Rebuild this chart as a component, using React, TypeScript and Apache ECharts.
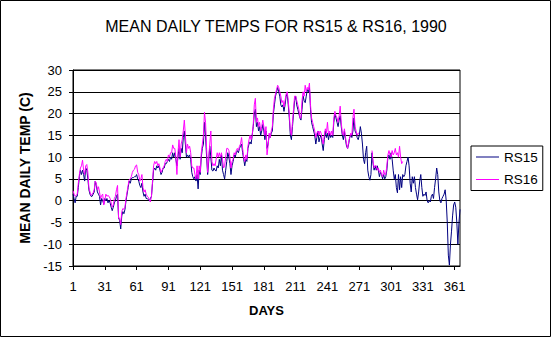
import React, { useEffect, useRef } from "react";
import * as echarts from "echarts";

const days: string[] = Array.from({ length: 366 }, (_, i) => String(i + 1));
const xTickLabels = ["1", "31", "61", "91", "121", "151", "181", "211", "241", "271", "301", "331", "361"];

const rs15: (number | null)[] = [
  // 1-30
  1.5, 0.5, -0.5, 1, 1, 3, 5.5, 7, 6, 7,
  6, 4.5, 7.5, 7, 5, 2.5, 1.5, 1, 1, 1.5,
  2, 4.5, 3.5, 2, 1.5, 1, -1, 0.5, 0, -0.8,
  // 31-60
  0.5, 0, 0.5, -0.5, 0, -0.5, -1.5, -2.3, -1.5, -0.5,
  0, 1, 1.5, -4, -4.5, -6.5, -3.5, -2.5, -3, -2,
  0, 1.5, 3, 4.5, 4, 5, 5.3, 5.3, 5.5, 5.5,
  // 61-90
  6, 5, 4.5, 3.5, 3, 4, 2, 1, 1.5, 0.5,
  0.5, 0.2, 0, 0.5, 1, 4, 7, 7.5, 7, 8,
  7.5, 8, 7, 6, 6.5, 7.5, 7.5, 8.5, 8.5, 9,
  // 91-120
  9.5, 9, 10, 9.5, 11, 10, 11, 9.5, 8, 10,
  12, 9.5, 12, 11, 14.5, 16, 13, 10, 10.5, 10,
  10.5, 9.5, 6.5, 5.5, 5, 5.5, 4.5, 6, 2.7, 7,
  // 121-150
  6, 10, 12, 13, 18, 15, 10, 6, 9, 12.5,
  10, 7, 6.8, 7.5, 7, 6.8, 8, 7.5, 9.5, 8,
  10.5, 7, 6, 5, 7, 9, 11, 10, 8.5, 6,
  // 151-180
  8, 9, 10.5, 10, 11, 11.5, 11, 12, 12.5, 13,
  11, 9.5, 8, 9.5, 9, 12, 13, 13.5, 13, 15,
  17, 20, 21, 17, 18, 16, 17, 15, 16, 17.5,
  // 181-210
  16, 14, 16, 12, 13, 15, 14.5, 15.5, 16, 20,
  22, 24, 25, 26, 25, 24, 22, 21.5, 22, 20.5,
  22, 24, 24.5, 22, 19, 15, 14, 17, 20, 23,
  // 211-240
  24, 22, 21, 20, 19, 18.5, 21, 24, 23, 22.5,
  24, 25.5, 25, 26, 21, 18, 17, 16, 15, 13,
  14.5, 16, 13.5, 14.5, 15, 13, 11.5, 14, 16, 14.5,
  // 241-270
  15.5, 14, 15.5, 14.5, 15, 14.5, 18, 20, 19, 18,
  17, 18.5, 19.5, 17, 15, 14, 16, 14, 12.5, 12,
  13, 14.5, 15, 14.5, 16, 19, 16, 15.5, 14.5, 14,
  // 271-300
  15, 17, 15.5, 13, 9.5, 8.5, 11, 12.5, 7, 5.5,
  4.7, 6, 11, 8.5, 7, 8, 7, 8, 7, 5.5,
  6.5, 6, 5, 6, 5, 5.5, 7, 10, 10.5, 9.5,
  // 301-330
  11, 9.5, 7, 5, 6, 3, 1.8, 6, 2.5, 5.5,
  3, 6, 5.5, 6, 8, 9, 10, 8, 4, 2,
  5.5, 4, 5.5, 3, 1.5, 0.2, 2, 4.5, 6, 3,
  // 331-366
  1, 1.5, 1.2, 2, 0, -0.5, 0, -0.3, 1, 1.5,
  0.5, 3, 5, 7.5, 6, 2, 0, -0.5, 0.5, 1,
  1.5, 2.5, 0, -5, -12.5, -14.8, -10, -7, -3.5, -1,
  -0.3, -1.5, -5, -10, -5, -2,
];

const rs16: (number | null)[] = [
  // 1-30
  2.3, 1.5, 1, 1.2, 1.5, 4, 6, 7.5, 8, 9.3,
  7, 6, 8, 8.3, 6.5, 3, 2, 1.2, 1.5, 1.8,
  2.5, 4.5, 4, 2.5, 3.2, 2, 0.5, 1.2, 1.5, -1,
  // 31-60
  0, 1.5, 1, 1.2, 1, 0.5, -0.5, -1.5, -1, 0.5,
  1, 2.5, 3.5, -4, -4, -5.5, -2.5, -1.8, -2, -1.5,
  0.5, 2, 3.5, 4.8, 5, 5.5, 6.5, 7, 7.2, 8,
  // 61-90
  8.2, 6.5, 6, 4.5, 5, 6, 3, 2, 2.5, 1.5,
  1, 0.8, 0.2, -0.3, 1, 4.5, 8, 9, 8.5, 9,
  8, 8.5, 7.5, 6.5, 7, 7.5, 8, 9, 9.5, 9,
  // 91-120
  10.5, 10, 11, 11, 12.8, 12, 12, 10, 6, 11,
  14, 10, 13, 14, 16, 18.5, 15, 11, 13, 12,
  12.5, 11, 8, 7.5, 7.5, 6, 5, 8, 5, 8,
  // 121-150
  6.5, 11, 13, 15, 20.3, 18, 12, 6.5, 10, 13,
  16, 9, 8, 8.5, 8, 9.5, 11, 10, 11, 10,
  11, 9.5, 7.5, 8, 10, 12, 12, 11.5, 10, 7.5,
  // 151-180
  9, 9.5, 11, 10.5, 11.5, 12, 11.5, 12.5, 13, 14.5,
  12, 10, 9, 10.5, 9.5, 12.5, 14, 15, 14, 15,
  17.5, 22, 23.5, 18, 19, 17, 18, 16, 17, 18.5,
  // 181-210
  17, 15, 17, 10.5, 12.5, 15.5, 14.5, 16, 17, 21,
  23.5, 24.5, 25.5, 26.5, 26, 25, 24, 22.5, 23, 21.5,
  23, 24.5, 25, 23, 20, 16, 15, 18, 21, 24,
  // 211-240
  24, 23, 22, 21, 19, 19, 23, 25, 24, 26.5,
  25, 26, 25.5, 27, 22, 19, 18, 17, 16, 14.5,
  15.5, 16, 15, 16, 15.5, 14, 13, 15, 16.5, 15.5,
  // 241-270
  18, 15, 16, 15, 16, 15, 19, 20.5, 19.5, 19,
  18, 19.5, 21.7, 18, 15.5, 15, 16.5, 14.5, 13, 12,
  13.5, 14.5, 15.5, 15, 19, 21, 17, 16, 15, 15.5,
  // 271-300
  15.5, null, null, null, null, null, null, null, null, null,
  null, null, 11.5, 9, 7.5, 8, 8, 7, 7.5, 6.5,
  7, 6, 5.5, 7, 6, 6, 8, 10.5, 11.5, 10.5,
  // 301-312
  10, 11.5, 10.5, 11, 12, 10.5, 11, 10, 12.5, 10,
  8.5, 9,
];

const yMin = -15;
const yMax = 30;
const yInterval = 5;

const FONT = "'Liberation Sans', Arial, sans-serif";
const LINE_ICON = "path://M0,0 L46,0 L46,2 L0,2 Z";

export default function App() {
  const ref = useRef<HTMLDivElement>(null);

  useEffect(() => {
    if (!ref.current) return;
    const chart = echarts.init(ref.current, undefined, { renderer: "svg" });
    const tickEvery = (index: number) => xTickLabels.includes(days[index]);
    chart.setOption({
      animation: false,
      backgroundColor: "#ffffff",
      textStyle: { fontFamily: FONT, color: "#000" },
      title: {
        text: "MEAN DAILY TEMPS FOR RS15 & RS16, 1990",
        left: "center",
        top: 18,
        padding: 0,
        textStyle: { fontFamily: FONT, fontSize: 16, fontWeight: "normal", color: "#000" },
      },
      legend: {
        orient: "vertical",
        left: 471,
        top: 146,
        padding: [4, 5, 4, 5],
        itemWidth: 23,
        itemHeight: 14,
        itemGap: 8.5,
        symbolKeepAspect: true,
        backgroundColor: "#fff",
        borderColor: "#000",
        borderWidth: 1,
        borderRadius: 0,
        textStyle: { fontFamily: FONT, fontSize: 13.5, color: "#000" },
        data: [
          { name: "RS15", icon: LINE_ICON, itemStyle: { color: "#000080" } },
          { name: "RS16", icon: LINE_ICON, itemStyle: { color: "#ff00ff" } },
        ],
      },
      grid: {
        left: 73,
        right: 92,
        top: 70,
        bottom: 72,
        show: true,
        borderColor: "#000",
        borderWidth: 1,
        backgroundColor: "#fff",
        containLabel: false,
        outerBoundsMode: "none",
      },
      xAxis: {
        type: "category",
        data: days,
        boundaryGap: false,
        name: "DAYS",
        nameLocation: "middle",
        nameGap: 38,
        nameTextStyle: { fontFamily: FONT, fontSize: 13, fontWeight: "bold", color: "#000" },
        axisLine: { onZero: false, lineStyle: { color: "#000", width: 1 } },
        axisTick: { show: true, length: 4, interval: (i: number) => tickEvery(i), lineStyle: { color: "#000" } },
        axisLabel: {
          interval: (i: number) => tickEvery(i),
          margin: 14,
          fontFamily: FONT,
          fontSize: 13,
          color: "#000",
        },
        splitLine: { show: false },
      },
      yAxis: {
        type: "value",
        min: yMin,
        max: yMax,
        interval: yInterval,
        name: "MEAN DAILY TEMP (C)",
        nameLocation: "middle",
        nameGap: 38,
        nameRotate: 90,
        nameTextStyle: { fontFamily: FONT, fontSize: 14, fontWeight: "bold", color: "#000" },
        axisLine: { show: true, lineStyle: { color: "#000", width: 1 } },
        axisTick: { show: true, length: 4, lineStyle: { color: "#000" } },
        axisLabel: { margin: 11, fontFamily: FONT, fontSize: 13, color: "#000" },
        splitLine: { show: true, lineStyle: { color: "#000", width: 1 } },
      },
      series: [
        {
          name: "RS15",
          type: "line",
          data: rs15,
          symbol: "none",
          connectNulls: false,
          lineStyle: { color: "#000080", width: 1 },
          itemStyle: { color: "#000080" },
        },
        {
          name: "RS16",
          type: "line",
          data: rs16,
          symbol: "none",
          connectNulls: false,
          lineStyle: { color: "#ff00ff", width: 1 },
          itemStyle: { color: "#ff00ff" },
        },
      ],
      graphic: [
        {
          type: "rect",
          silent: true,
          z: 100,
          shape: { x: 0.5, y: 0.5, width: 550, height: 336 },
          style: { fill: "none", stroke: "#000", lineWidth: 1 },
        },
      ],
    });
    return () => chart.dispose();
  }, []);

  return (
    <div
      ref={ref}
      style={{ position: "fixed", left: 0, top: 0, width: 552, height: 338, background: "#fff" }}
    />
  );
}
